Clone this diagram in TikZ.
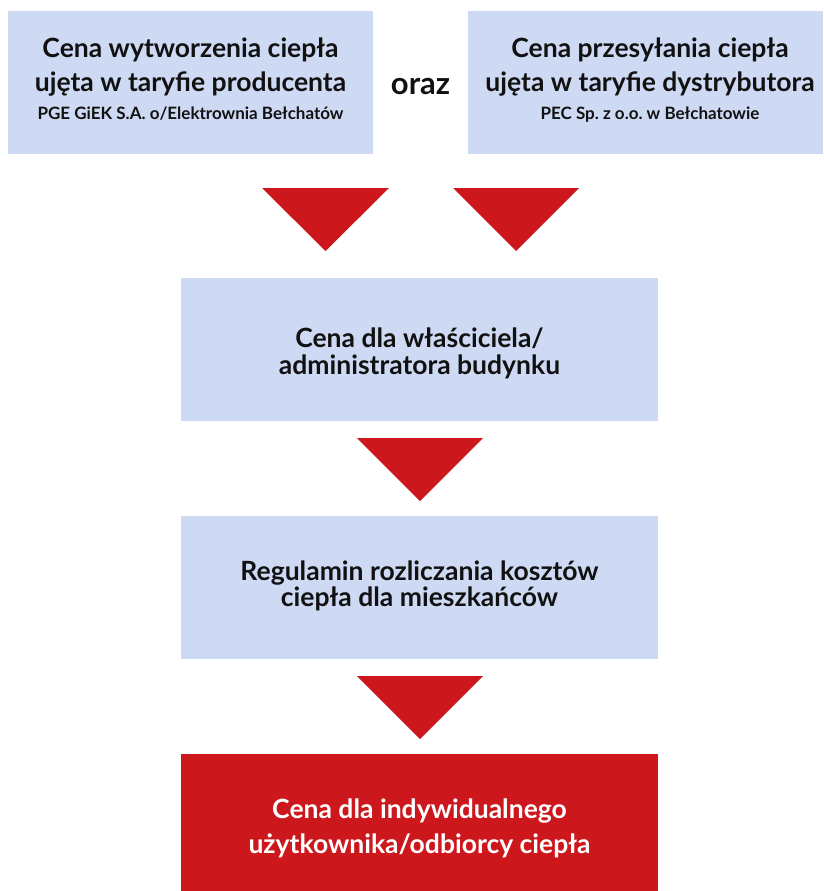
\documentclass[tikz,border=0pt]{standalone}
\usepackage{fontspec}
\setmainfont{Lato}[BoldFont={Lato Bold}]
\frenchspacing
\definecolor{boxblue}{RGB}{206,218,243}
\definecolor{boxred}{RGB}{204,23,29}
\definecolor{txt}{RGB}{17,17,17}
\begin{document}
\begin{tikzpicture}[x=1pt,y=-1pt,
  bluebox/.style={fill=boxblue,draw=none,inner sep=0pt,rectangle},
  redbox/.style={fill=boxred,draw=none,inner sep=0pt,rectangle},
  bigtxt/.style={anchor=base,inner sep=0pt,font=\fontsize{26.5}{30}\selectfont\bfseries,text=txt},
  smalltxt/.style={anchor=base,inner sep=0pt,font=\fontsize{17}{20}\selectfont\bfseries,text=txt},
  oraztxt/.style={anchor=base,inner sep=0pt,font=\fontsize{31}{34}\selectfont\bfseries,text=txt},
  whitetxt/.style={bigtxt,text=white},
  tri/.style={fill=boxred,draw=none}]
\useasboundingbox (0,0) rectangle (823,891);
% boxes
\node[bluebox,minimum width=365pt,minimum height=143pt] (prod) at (190.5,82.5) {};
\node[bluebox,minimum width=355pt,minimum height=143pt] (dist) at (645.5,82.5) {};
\node[bluebox,minimum width=477pt,minimum height=143pt] (owner) at (419.5,349.5) {};
\node[bluebox,minimum width=477pt,minimum height=143pt] (reg) at (419.5,587.5) {};
\node[redbox,minimum width=477pt,minimum height=137pt] (user) at (419.5,822.5) {};
% top left text
\node[bigtxt] (p1) at (190.5,57.3) {Cena wytworzenia ciepła};
\node[bigtxt] (p2) at (190.5,91.7) {ujęta w taryfie producenta};
\node[smalltxt] (p3) at (190.5,119) {PGE GiEK S.A. o/Elektrownia Bełchatów};
% oraz
\node[oraztxt] (oraz) at (420.5,94.3) {oraz};
% top right text
\node[bigtxt] (d1) at (650,57.3) {Cena przesyłania ciepła};
\node[bigtxt] (d2) at (650,91.7) {ujęta w taryfie dystrybutora};
\node[smalltxt] (d3) at (650,119) {PEC Sp. z o.o. w Bełchatowie};
% triangles
\fill[tri] (262,188) -- (389,188) -- (325.5,251) -- cycle;
\fill[tri] (453,188) -- (579,188) -- (516,251) -- cycle;
% middle box text
\node[bigtxt] (a1) at (419.5,347.7) {Cena dla właściciela/};
\node[bigtxt] (a2) at (419.5,374.3) {administratora budynku};
\fill[tri] (357,438) -- (483,438) -- (420,501) -- cycle;
% regulamin
\node[bigtxt] (r1) at (419.5,580) {Regulamin rozliczania kosztów};
\node[bigtxt] (r2) at (419.5,606.7) {ciepła dla mieszkańców};
\fill[tri] (357,676) -- (483,676) -- (420,739) -- cycle;
% red
\node[whitetxt] (u1) at (419.5,818.3) {Cena dla indywidualnego};
\node[whitetxt] (u2) at (419.5,853.3) {użytkownika/odbiorcy ciepła};
\end{tikzpicture}
\end{document}
